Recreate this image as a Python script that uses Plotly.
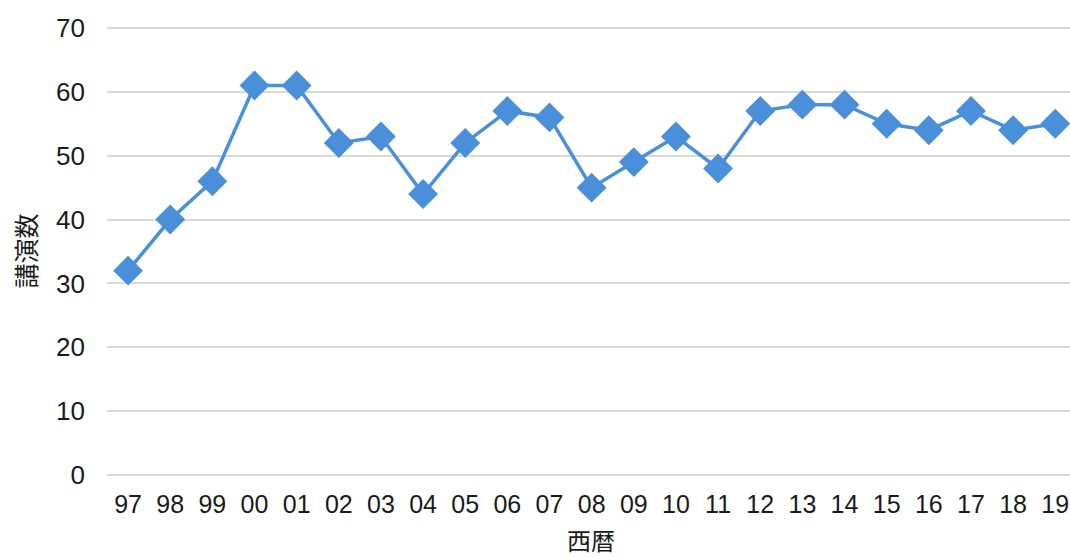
import plotly.graph_objects as go

# 西暦 (two-digit year) and 講演数 per year
years = ["97", "98", "99", "00", "01", "02", "03", "04", "05", "06", "07", "08",
         "09", "10", "11", "12", "13", "14", "15", "16", "17", "18", "19"]
talks = [32, 40, 46, 61, 61, 52, 53, 44, 52, 57, 56, 45,
         49, 53, 48, 57, 58, 58, 55, 54, 57, 54, 55]
y_ticks = [0, 10, 20, 30, 40, 50, 60, 70]

BLUE = "#4a8fd9"
LATIN = "Liberation Sans, Arial, sans-serif"
CJK = "Noto Sans CJK JP, sans-serif"

PAD = 0.16  # keeps the 0 and 70 gridlines inside the plot area

fig = go.Figure(
    go.Scatter(
        x=list(range(len(years))),
        y=talks,
        mode="lines+markers",
        line=dict(color=BLUE, width=3.5),
        marker=dict(symbol="diamond", size=23, color=BLUE, line=dict(width=0)),
        cliponaxis=False,
        hoverinfo="skip",
    )
)

fig.update_layout(
    width=1070,
    height=557,
    margin=dict(l=107, r=0, t=27, b=81),
    paper_bgcolor="white",
    plot_bgcolor="white",
    showlegend=False,
    font=dict(family=LATIN, color="#1a1a1a"),
)

fig.update_xaxes(
    range=[-0.5, 22.35],
    tickmode="array",
    tickvals=list(range(len(years))),
    ticktext=years,
    tickfont=dict(size=25, family=LATIN, color="#1a1a1a"),
    ticklabelstandoff=11,
    showgrid=False,
    zeroline=False,
    showline=False,
    ticks="",
)

fig.update_yaxes(
    range=[-PAD, 70 + PAD],
    tickmode="array",
    tickvals=y_ticks,
    tickfont=dict(size=26, family=LATIN, color="#1a1a1a"),
    ticklabelstandoff=21,
    showgrid=True,
    gridcolor="#d9d9d9",
    gridwidth=2,
    zeroline=False,
    showline=False,
    ticks="",
)

fig.add_annotation(
    text="講演数", textangle=-90,
    xref="paper", yref="paper", x=-107 / 963 + 24 / 963, y=0.5,
    xanchor="center", yanchor="middle", showarrow=False,
    font=dict(family=CJK, size=25, color="#1a1a1a"),
)
fig.add_annotation(
    text="西暦",
    xref="paper", yref="paper", x=(591 - 107) / 963, y=-(539 - 476) / 449,
    xanchor="center", yanchor="middle", showarrow=False,
    font=dict(family=CJK, size=24, color="#1a1a1a"),
)

fig.write_html("out.html")
